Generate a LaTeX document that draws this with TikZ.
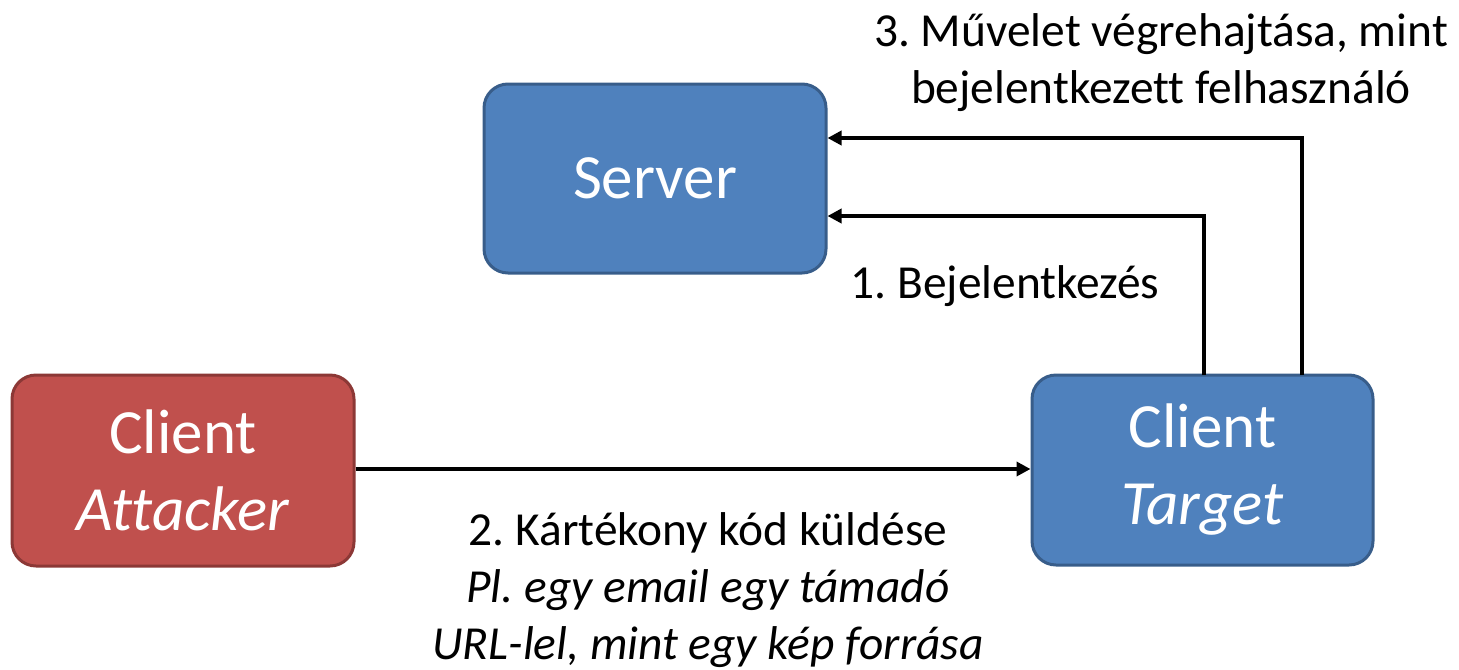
\documentclass[tikz,border=0pt]{standalone}
\usepackage{fontspec}
\setmainfont[Ligatures={NoCommon,NoRequired,NoContextual,NoRare}]{Carlito}
\usetikzlibrary{arrows.meta}
\definecolor{bfill}{HTML}{4F81BD}
\definecolor{bline}{HTML}{385D8A}
\definecolor{rfill}{HTML}{C0504D}
\definecolor{rline}{HTML}{8C3836}
\frenchspacing
\tikzset{
  box/.style={rounded corners=12pt, line width=1.5pt, text=white, align=center,
    font=\fontsize{31.5}{38.5}\selectfont, inner sep=0pt},
  bluebox/.style={box, fill=bfill, draw=bline},
  redbox/.style={box, fill=rfill, draw=rline},
  conn/.style={line width=2.2pt, -{Triangle[length=7pt,width=7pt]}},
  lbl/.style={font=\fontsize{23.7}{28.5}\selectfont, align=center, inner sep=0pt}
}
\begin{document}
\begin{tikzpicture}[x=0.5pt,y=-0.5pt]
\useasboundingbox (0,0) rectangle (1459,669);
\node[bluebox, minimum width=171pt, minimum height=94.5pt] (server) at (655,178.5) {Server};
\node[redbox, minimum width=171pt, minimum height=95.5pt] (att) at (183,470.5) {Client\\\textit{Attacker}};
\node[bluebox, minimum width=170.5pt, minimum height=95pt] (tgt) at (1202.5,470) {Client\\\textit{Target}};
\coordinate (l1) at (1204,375);
\coordinate (l2) at (1302,375);
\draw[conn] (l1) |- (server.east |- 0,216);
\draw[conn] (l2) |- (server.east |- 0,138);
\draw[conn] (att.east |- 0,469) -- (tgt.west |- 0,469);
\node[lbl] (t3) at (1161,63) {3. Művelet végrehajtása, mint\\bejelentkezett felhasználó};
\node[lbl, anchor=center] (t1) at (1005,286) {1. Bejelentkezés};
\node[lbl] (t2) at (708,590) {2. Kártékony kód küldése\\\textit{Pl. egy email egy támadó}\\\textit{URL-lel, mint egy kép forrása}};
\end{tikzpicture}
\end{document}
